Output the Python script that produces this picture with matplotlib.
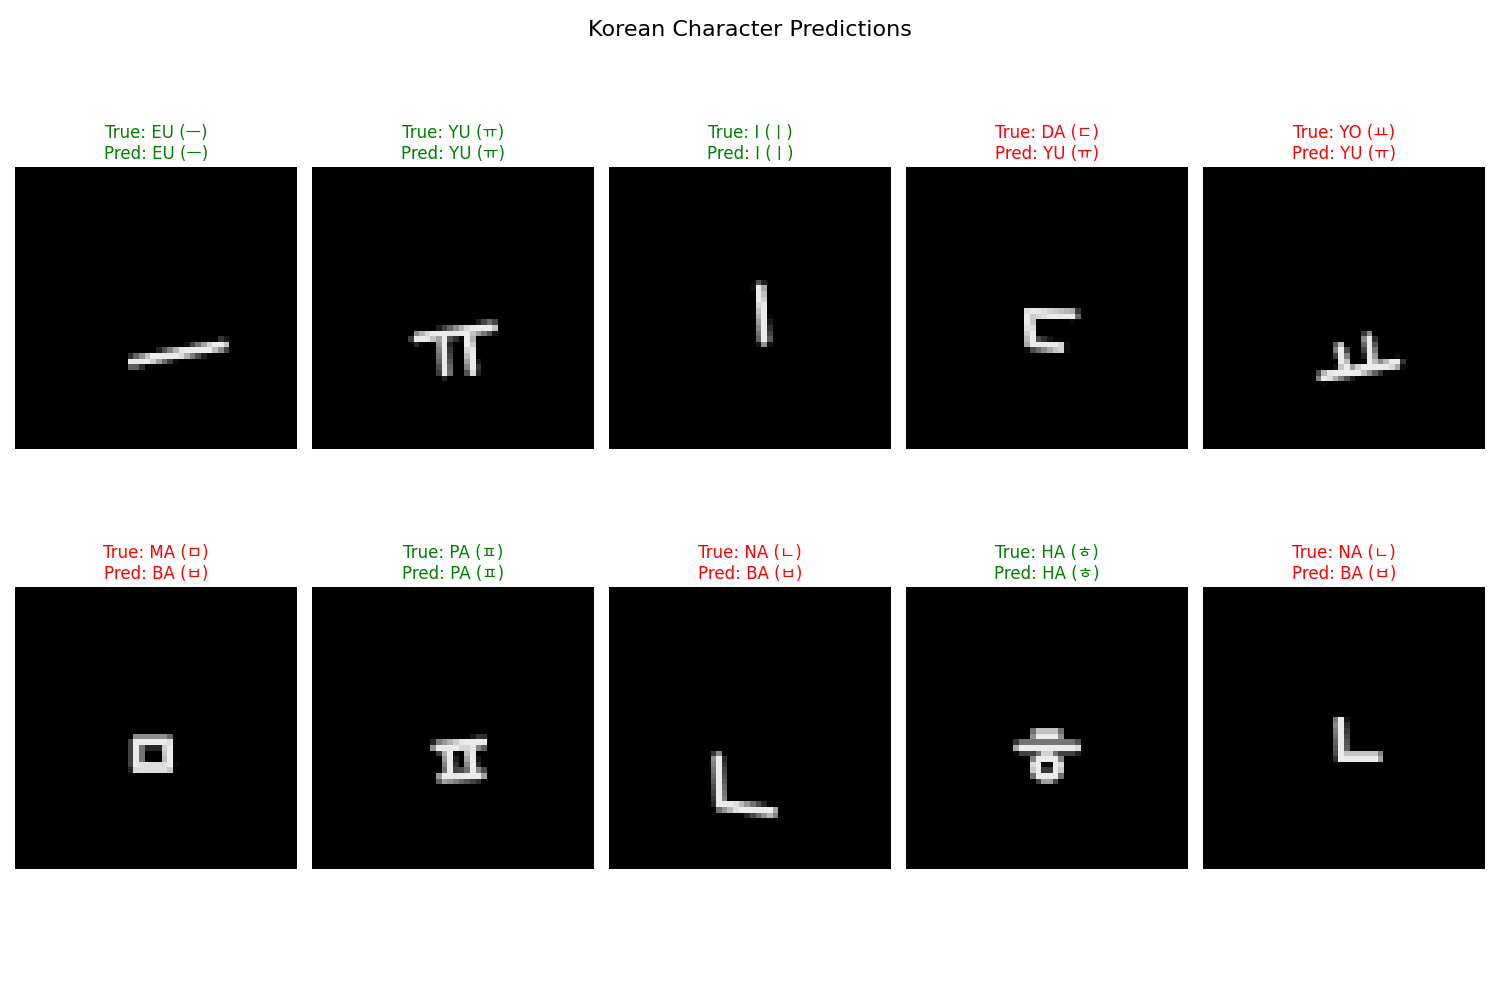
import numpy as np
import matplotlib
matplotlib.use("Agg")
import matplotlib.pyplot as plt

plt.rcParams['font.family'] = ['DejaVu Sans', 'Noto Sans CJK KR']

# ---- data ----
true_names = ["EU", "YU", "I", "DA", "YO", "MA", "PA", "NA", "HA", "NA"]
true_chars = ["ㅡ", "ㅠ", "ㅣ", "ㄷ", "ㅛ", "ㅁ", "ㅍ", "ㄴ", "ㅎ", "ㄴ"]
pred_names = ["EU", "YU", "I", "YU", "YU", "BA", "PA", "BA", "HA", "BA"]
pred_chars = ["ㅡ", "ㅠ", "ㅣ", "ㅠ", "ㅠ", "ㅂ", "ㅍ", "ㅂ", "ㅎ", "ㅂ"]

grid_size = 50

# strokes of each sample image, as polylines in image-pixel coordinates (x, y)
strokes_eu = [[(20.9, 34.6), (36.9, 31.6)]]
strokes_yu = [[(18.6, 30.3), (31.9, 28.4)],
              [(23.2, 30.1), (23.6, 36.3)],
              [(27.7, 29.4), (28.4, 36.0)]]
strokes_i = [[(26.8, 21.5), (27.5, 30.7)]]
strokes_da = [[(29.6, 26.2), (21.8, 25.9), (22.2, 31.4), (27.3, 32.0)]]
strokes_yo = [[(24.3, 32.1), (25.3, 36.3)],
              [(29.3, 30.3), (30.0, 35.5)],
              [(21.3, 37.2), (34.4, 34.8)]]
strokes_ma = [[(21.6, 27.3), (27.0, 27.3), (27.2, 32.0), (21.6, 32.0), (21.6, 27.3)]]
strokes_pa = [[(22.3, 28.4), (30.1, 27.6)],
              [(24.1, 28.4), (24.5, 33.6)],
              [(28.0, 28.2), (28.5, 33.3)],
              [(23.2, 33.8), (29.8, 33.3)]]
strokes_na1 = [[(19.3, 30.3), (19.7, 38.6), (28.9, 39.9)]]
strokes_ha = [[(23.2, 26.1), (26.8, 26.1)],
              [(20.2, 28.4), (30.0, 28.4)],
              [(25.0, 29.9), (26.6, 30.5), (27.1, 31.9), (26.6, 33.3), (25.0, 33.9),
               (23.4, 33.3), (22.9, 31.9), (23.4, 30.5), (25.0, 29.9)]]
strokes_na2 = [[(24.3, 23.9), (24.6, 30.1), (30.9, 30.1)]]

sample_strokes = [strokes_eu, strokes_yu, strokes_i, strokes_da, strokes_yo,
                  strokes_ma, strokes_pa, strokes_na1, strokes_ha, strokes_na2]


def rasterize(polylines, n):
    yy, xx = np.mgrid[0:n, 0:n] + 0.5
    dist = np.full((n, n), np.inf)
    for line in polylines:
        for (x1, y1), (x2, y2) in zip(line[:-1], line[1:]):
            dx, dy = x2 - x1, y2 - y1
            L2 = dx * dx + dy * dy
            t = np.clip(((xx - x1) * dx + (yy - y1) * dy) / L2, 0, 1)
            d = np.hypot(xx - (x1 + t * dx), yy - (y1 + t * dy))
            dist = np.minimum(dist, d)
    img = np.clip(1.5 - dist / 0.9, 0, 1) * 0.92
    return img


fig, axes = plt.subplots(2, 5, figsize=(15, 10), dpi=100)
fig.subplots_adjust(left=0.01, right=0.99, top=0.833, bottom=0.131,
                    wspace=0.0532, hspace=0.489)
fig.suptitle("Korean Character Predictions", fontsize=16, y=0.98)

for k, ax in enumerate(axes.flat):
    img = rasterize(sample_strokes[k], grid_size)
    ax.imshow(img, cmap="gray", vmin=0, vmax=1, interpolation="nearest")
    ok = true_names[k] == pred_names[k]
    color = "green" if ok else "red"
    ax.set_title(f"True: {true_names[k]} ({true_chars[k]})\n"
                 f"Pred: {pred_names[k]} ({pred_chars[k]})",
                 color=color, fontsize=12)
    ax.axis("off")

fig.savefig("out.png", dpi=100)
